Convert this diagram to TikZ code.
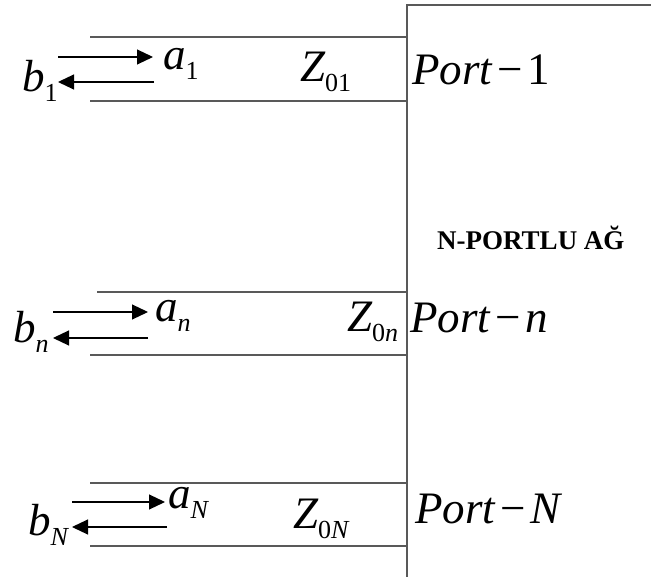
\documentclass[tikz,border=0pt]{standalone}
\usepackage{fontspec}
\setmainfont{Liberation Serif}[ItalicFont={Liberation Serif Italic},BoldFont={Liberation Serif Bold}]
\usetikzlibrary{arrows.meta}
\newcommand{\lowsub}[1]{\raisebox{-10pt}{\fontsize{26}{26}\selectfont #1}}
\tikzset{
  tline/.style={draw=black!65, line width=1.4pt},
  wave/.style={draw=black, line width=1.1pt, -{Triangle[length=16pt,width=15pt]}},
  lbl/.style={anchor=base west, inner sep=0pt, font=\fontsize{45}{50}\selectfont},
  title/.style={anchor=base west, inner sep=0pt, font=\fontsize{27}{30}\selectfont\bfseries}
}
\begin{document}
\begin{tikzpicture}[x=1pt,y=-1pt]
\useasboundingbox (0,0) rectangle (651,577);
% box
\coordinate (bx0) at (407,577);
\coordinate (bx1) at (407,5);
\coordinate (bx2) at (651,5);
\draw[tline] (bx0) -- (bx1) -- (bx2);
% port 1
\coordinate (t1a) at (90,37);  \coordinate (t1b) at (407,37);
\coordinate (u1a) at (90,101); \coordinate (u1b) at (407,101);
\draw[tline] (t1a) -- (t1b);
\draw[tline] (u1a) -- (u1b);
\coordinate (a1s) at (58,57);  \coordinate (a1e) at (153,57);
\coordinate (b1s) at (154,82); \coordinate (b1e) at (58,82);
\draw[wave] (a1s) -- (a1e);
\draw[wave] (b1s) -- (b1e);
\node[lbl] (la1) at (163,70) {\itshape a\upshape\lowsub{1}};
\node[lbl] (lb1) at (22,92) {\itshape b\upshape\lowsub{1}};
\node[lbl] (lz1) at (300,82) {\itshape Z\upshape\lowsub{01}};
\node[lbl] (lp1) at (412,85) {\itshape Port\upshape\hspace{5pt}−\hspace{5pt}1};
% title
\node[title] (ttl) at (437,250) {N-PORTLU AĞ};
% port n
\coordinate (tna) at (97,292);  \coordinate (tnb) at (407,292);
\coordinate (una) at (90,355);  \coordinate (unb) at (407,355);
\draw[tline] (tna) -- (tnb);
\draw[tline] (una) -- (unb);
\coordinate (ans) at (53,312);  \coordinate (ane) at (148,312);
\coordinate (bns) at (148,338); \coordinate (bne) at (53,338);
\draw[wave] (ans) -- (ane);
\draw[wave] (bns) -- (bne);
\node[lbl] (lan) at (155,322) {\itshape a\lowsub{n}};
\node[lbl] (lbn) at (13,343) {\itshape b\lowsub{n}};
\node[lbl] (lzn) at (347,332) {\itshape Z\lowsub{\upshape 0\itshape n}};
\node[lbl] (lpn) at (410,333) {\itshape Port\hspace{5pt}\upshape−\hspace{5pt}\itshape n};
% port N
\coordinate (tNa) at (90,483);  \coordinate (tNb) at (407,483);
\coordinate (uNa) at (90,546);  \coordinate (uNb) at (407,546);
\draw[tline] (tNa) -- (tNb);
\draw[tline] (uNa) -- (uNb);
\coordinate (aNs) at (72,502);  \coordinate (aNe) at (165,502);
\coordinate (bNs) at (167,527); \coordinate (bNe) at (72,527);
\draw[wave] (aNs) -- (aNe);
\draw[wave] (bNs) -- (bNe);
\node[lbl] (laN) at (168,508) {\itshape a\lowsub{N}};
\node[lbl] (lbN) at (28,535) {\itshape b\lowsub{N}};
\node[lbl] (lzN) at (293,528) {\itshape Z\lowsub{\upshape 0\itshape N}};
\node[lbl] (lpN) at (415,523) {\itshape Port\hspace{5pt}\upshape−\hspace{5pt}\itshape N};
\end{tikzpicture}
\end{document}
